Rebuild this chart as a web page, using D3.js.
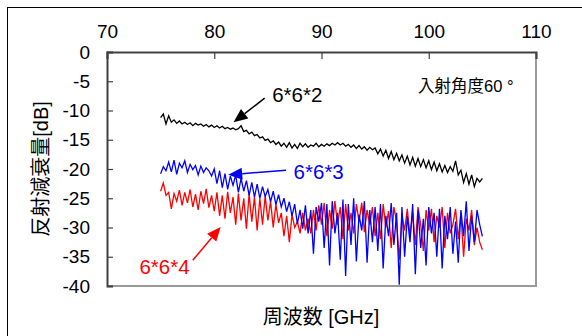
<!DOCTYPE html>
<html>
<head>
<meta charset="utf-8">
<script src="https://cdn.jsdelivr.net/npm/d3@7"></script>
<style>
  body { margin: 0; background: #fff; }
  svg text { font-family: "Liberation Sans", Arial, "Noto Sans CJK JP", sans-serif; }
</style>
</head>
<body>
<svg id="chart" width="582" height="336"></svg>
<script>
// x ticks (top axis) and y ticks
var xTicks = [70, 80, 90, 100, 110];
var yTicks = [0, -5, -10, -15, -20, -25, -30, -35, -40];

// measured from 75 GHz in 0.25 GHz steps
var freqStart = 75, freqStep = 0.25;

var s662 = [
  -11.2, -10.6, -12.3, -10.9, -12.0, -11.6, -12.2, -11.8, -12.3, -12.0,
  -12.4, -12.1, -12.6, -12.2, -12.5, -12.3, -12.7, -12.4, -12.8, -12.5,
  -12.9, -12.6, -13.0, -12.7, -13.1, -12.9, -13.2, -13.0, -13.3, -13.1,
  -12.6, -13.6, -13.4, -14.0, -13.7, -14.3, -14.1, -14.7, -14.5, -15.1,
  -14.9, -15.5, -15.2, -15.8, -15.4, -16.1, -15.6, -16.3, -15.5, -16.4,
  -15.8, -16.5, -15.6, -16.2, -15.7, -16.3, -15.9, -16.1, -15.6, -16.2,
  -15.8, -16.1, -15.7, -16.0, -15.6, -15.9, -15.5, -15.9, -15.6, -16.1,
  -15.8, -16.3, -15.9, -16.5, -16.0, -16.6, -16.2, -16.8, -16.3, -16.7,
  -16.4, -17.4, -16.6, -17.8, -16.8, -18.2, -17.0, -18.4, -17.3, -18.6,
  -17.6, -19.0, -17.8, -19.3, -18.0, -19.5, -18.2, -19.6, -18.4, -19.8,
  -18.6, -20.1, -18.8, -20.3, -19.1, -20.5, -19.4, -20.6, -19.6, -20.4,
  -18.6, -21.0, -20.2, -22.3, -20.8, -22.6, -21.0, -23.0, -21.6, -22.2,
  -21.6
];

var s663 = [
  -20.8, -19.6, -20.3, -18.8, -20.5, -18.5, -20.9, -19.0, -19.8, -18.6,
  -20.6, -19.2, -20.1, -19.4, -21.0, -19.5, -20.6, -19.8, -20.3, -21.2,
  -20.0, -22.5, -20.3, -23.2, -20.8, -23.5, -21.2, -22.8, -21.0, -24.0,
  -21.6, -23.8, -22.0, -24.5, -22.3, -24.8, -22.6, -25.0, -23.0, -24.7,
  -23.5, -25.6, -23.8, -26.1, -24.4, -26.5, -25.0, -27.3, -25.6, -28.0,
  -26.0, -29.4, -27.0, -30.2, -26.2, -31.0, -27.0, -34.5, -26.5, -29.0,
  -25.8, -33.5, -26.0, -36.5, -25.5, -31.0, -27.5, -35.5, -25.2, -38.3,
  -26.0, -33.0, -25.0, -35.8, -27.8, -30.5, -25.5, -36.0, -27.0, -32.5,
  -26.5, -34.0, -26.0, -37.0, -28.0, -31.5, -25.8, -33.0, -27.5, -39.8,
  -26.5, -35.0, -28.0, -32.5, -26.0, -38.0, -27.0, -33.5, -28.5, -36.5,
  -26.5, -31.0, -27.5, -35.0, -26.8, -37.0, -28.0, -32.0, -26.5, -34.5,
  -29.0, -36.0, -27.0, -31.5, -25.5, -34.0, -28.0, -32.5, -27.0, -29.5,
  -31.5
];

var s664 = [
  -23.8, -22.4, -24.5, -24.0, -26.8, -24.2, -25.5, -23.6, -26.2, -24.0,
  -25.8, -23.5, -26.5, -24.3, -27.0, -23.8, -25.9, -23.4, -26.6, -24.5,
  -27.2, -24.0, -28.0, -24.5, -28.5, -23.9, -27.5, -24.8, -29.5, -24.2,
  -28.8, -25.0, -30.2, -24.3, -29.0, -24.8, -30.5, -25.0, -29.5, -24.6,
  -28.8, -25.5, -30.0, -26.0, -29.2, -27.5, -31.5, -28.0, -32.5, -27.8,
  -30.0, -29.0, -31.0, -27.5, -30.5, -28.5, -31.0, -27.0, -30.5, -26.2,
  -29.5, -25.8, -31.5, -27.0, -30.2, -25.5, -29.5, -26.5, -32.0, -26.0,
  -30.5, -27.5, -31.0, -26.0, -29.0, -25.8, -30.8, -27.0, -29.5, -26.5,
  -31.5, -27.5, -32.0, -26.0, -30.0, -27.2, -33.5, -26.5, -29.0, -35.5,
  -28.0, -30.5, -26.8, -31.5, -27.5, -33.0, -26.5, -29.5, -34.0, -27.0,
  -30.5, -26.8, -32.5, -28.0, -30.0, -26.5, -33.5, -27.5, -31.0, -29.5,
  -26.8, -32.0, -27.5, -35.0, -28.5, -30.5, -27.0, -33.0, -30.0, -32.5,
  -33.8
];

var seriesNames = ["6*6*2", "6*6*3", "6*6*4"];
var seriesColors = ["#000000", "#0000ff", "#ff0000"];
var seriesValues = [s662, s663, s664];

var svg = d3.select("#chart");
var plot = { left: 107, top: 52, right: 536, bottom: 286 };

// outer chart frame (only left/top edges visible)
svg.append("rect")
  .attr("x", 7.5).attr("y", 7.5)
  .attr("width", 700).attr("height", 500)
  .attr("fill", "none").attr("stroke", "#000").attr("stroke-width", 1);

var x = d3.scaleLinear().domain([70, 110]).range([plot.left, plot.right]);
var y = d3.scaleLinear().domain([0, -40]).range([plot.top, plot.bottom]);

// plot area border: grey right/bottom
svg.append("line")
  .attr("x1", plot.right).attr("x2", plot.right)
  .attr("y1", plot.top).attr("y2", plot.bottom + 1)
  .attr("stroke", "#9a9a9a").attr("stroke-width", 2);
svg.append("line")
  .attr("x1", plot.left).attr("x2", plot.right + 1)
  .attr("y1", plot.bottom).attr("y2", plot.bottom)
  .attr("stroke", "#9a9a9a").attr("stroke-width", 2);

// series
var line = d3.line()
  .x(function(d, i) { return x(freqStart + i * freqStep); })
  .y(function(d) { return y(d); });

// red, blue, then black on top
[2, 1, 0].forEach(function(k) {
  svg.append("path")
    .datum(seriesValues[k])
    .attr("d", line)
    .attr("fill", "none")
    .attr("stroke", seriesColors[k])
    .attr("stroke-width", 1.3);
});

// top axis
var xAxis = d3.axisTop(x).tickValues(xTicks).tickSize(-7).tickPadding(8)
  .tickFormat(d3.format("d"));
var gx = svg.append("g").attr("transform", "translate(0," + plot.top + ")").call(xAxis);
gx.select(".domain").attr("stroke", "#404040").attr("stroke-width", 2);
gx.selectAll(".tick line").attr("stroke", "#404040").attr("stroke-width", 1.2);
gx.selectAll(".tick text")
  .attr("y", -28).attr("dy", "0.71em")
  .style("font-size", "19px").attr("fill", "#000");

// left axis
var yAxis = d3.axisLeft(y).tickValues(yTicks).tickSize(-6).tickPadding(17)
  .tickFormat(function(d) { return d === 0 ? "0" : "-" + Math.abs(d); });
var gy = svg.append("g").attr("transform", "translate(" + plot.left + ",0)").call(yAxis);
gy.select(".domain").attr("stroke", "#404040").attr("stroke-width", 2);
gy.selectAll(".tick line").attr("stroke", "#404040").attr("stroke-width", 1.2);
gy.selectAll(".tick text").style("font-size", "19px").attr("fill", "#000");

// axis titles
svg.append("text")
  .attr("transform", "translate(48,169) rotate(-90)")
  .attr("text-anchor", "middle")
  .style("font-size", "20px")
  .text("反射減衰量[dB]");
svg.append("text")
  .attr("x", 321).attr("y", 324)
  .attr("text-anchor", "middle")
  .style("font-size", "20px")
  .text("周波数 [GHz]");

// annotations (data units)
var notes = [
  { text: "6*6*2", color: "#000000", tx: 85.4, ty: -7.35, anchor: "start", from: [84.7, -7.9], to: [81.8, -12.0] },
  { text: "6*6*3", color: "#0000ff", tx: 87.4, ty: -20.5, anchor: "start", from: [86.7, -20.2], to: [81.3, -21.0] },
  { text: "6*6*4", color: "#ff0000", tx: 77.7, ty: -36.75, anchor: "end", from: [78.0, -35.6], to: [80.6, -29.9] }
];

notes.forEach(function(n) {
  svg.append("text")
    .attr("x", x(n.tx)).attr("y", y(n.ty))
    .attr("dy", "0.36em")
    .attr("text-anchor", n.anchor)
    .attr("fill", n.color)
    .style("font-size", "20.5px")
    .text(n.text);

  var x1 = x(n.from[0]), y1 = y(n.from[1]);
  var x2 = x(n.to[0]), y2 = y(n.to[1]);
  var dx = x2 - x1, dy = y2 - y1, len = Math.sqrt(dx * dx + dy * dy);
  var ux = dx / len, uy = dy / len;
  var headLen = 14, headW = 6;
  var bx = x2 - ux * headLen, by = y2 - uy * headLen;
  svg.append("line")
    .attr("x1", x1).attr("y1", y1).attr("x2", bx).attr("y2", by)
    .attr("stroke", n.color).attr("stroke-width", 1.5);
  svg.append("polygon")
    .attr("points", [
      [x2, y2],
      [bx - uy * headW, by + ux * headW],
      [bx + uy * headW, by - ux * headW]
    ].map(function(p) { return p.join(","); }).join(" "))
    .attr("fill", n.color);
});

svg.append("text")
  .attr("x", x(99.0)).attr("y", y(-5.8))
  .attr("dy", "0.36em")
  .style("font-size", "16.5px")
  .text("入射角度60 °");
</script>
</body>
</html>
